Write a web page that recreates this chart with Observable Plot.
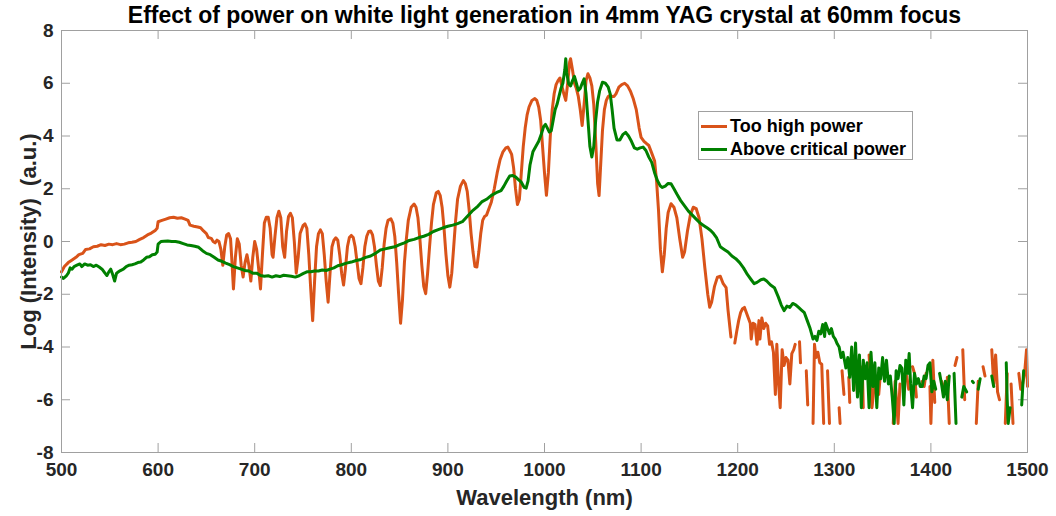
<!DOCTYPE html>
<html>
<head>
<meta charset="utf-8">
<script src="https://cdn.jsdelivr.net/npm/d3@7"></script>
<script src="https://cdn.jsdelivr.net/npm/@observablehq/plot@0.6"></script>
<style>
  html, body { margin: 0; padding: 0; background: #fff; }
  #wrap { position: relative; width: 1056px; height: 516px; font-family: "Liberation Sans", Arial, Helvetica, sans-serif; }
  #legend { position: absolute; left: 698px; top: 111px; width: 215px; height: 49px; border: 1px solid #a0a0a0; background: #fff; box-sizing: border-box; }
  .row { position: absolute; left: 0; height: 22px; display: flex; align-items: center; font-weight: bold; font-size: 18px; color: #000; white-space: nowrap; }
  .sw { width: 26px; height: 3px; margin-left: 2px; margin-right: 3px; }
</style>
</head>
<body>
<div id="wrap"></div>
<script>
const chartTitle = "Effect of power on white light generation in 4mm YAG crystal at 60mm focus";
const xLabel = "Wavelength (nm)";
const yLabel = "Log (Intensity)\u00a0 (a.u.)";
const seriesNames = ["Too high power", "Above critical power"];
const seriesColors = ["#D95319", "#008000"];
const ticksX = [500, 600, 700, 800, 900, 1000, 1100, 1200, 1300, 1400, 1500];
const ticksY = [-8, -6, -4, -2, 0, 2, 4, 6, 8];

// "Too high power" (orange)
const wlHigh = [500,503,507,511,515,518,522,525,529,533,537,541,545,549,553,557,561,565,569,573,577,581,585,589,593,597,599,600,604,608,612,616,620,624,628,631,633,637,641,644,647,650,652,655,657,659,661,663,665,667,669,671,673,675,676.5,678,680,682,684,686,688,690,692,694,696,698,700,702,704,706,708,710,712,714,716,718,719,721,723,725,727,729,731,733,735,737,739,741,743,745,747,750,752,754,756,758,760,762,764,766,768,770,772,774,776,778,780,782,784,786,788,790,792,794,796,798,800,802,804,806,808,810,812,814,816,818,820,822,824,826,828,830,832,834,836,838,841,843,845,847,849,851,853,855,857,859,862,865,867,869,871,873,875,877,879,881,883,885,888,890,892,894,896,898,900,902,904,906,908,910,913,916,918,920,922,924,926,928,930,932,934,936,938,940,943,945,948,951,954,957,960,962,964,966,968,970,972,974,976,978,980,982,984,987,990,992,994,996,998,1000,1002,1004,1006,1008,1010,1012,1014,1016,1018,1020,1022,1024,1026,1027,1029,1031,1033,1035,1037,1039,1041,1043,1045,1047,1049,1051,1053,1055,1056.5,1058,1060,1062,1064,1066,1068,1070,1072,1074,1077,1080,1083,1086,1089,1092,1095,1098,1100,1103,1106,1108,1111,1114,1116,1118,1120,1122,1124,1126,1128,1131,1134,1137,1140,1143,1145,1148,1151,1154,1157,1160,1163,1166,1169,1171,1173,1176,1179,1182,1185,1188,1190,1193,1195,1197,1199,1201,1203,1205,1207,1209,1211,1213,1214,1216,1218,1220,1222,1223,1225,1227,1229,1231,1233,1235,1237,1239,1240.5,1242,1244,1246,1248,1250,1252,1254,1256,1258,1259.5,1262,1264,1265,1268,1271,1272.5,1275,1278,1279.5,1281,1283,1285,1287,1289,1291,1293,1295,1300,1305,1306,1307,1308,1310,1312,1315,1316,1319,1322,1324,1326,1329,1330,1333,1336,1339,1341,1344,1346,1348,1355,1361,1363,1366,1368,1371,1375,1377,1379,1381,1383,1385,1388,1391,1393,1395,1397,1399,1400,1402,1404,1408,1411,1413,1415,1417,1419,1422,1425,1427,1430,1433,1435,1440,1447,1449,1452,1454,1456,1460,1463,1465,1467,1469,1471,1474,1477,1479,1481,1483,1485,1488,1491,1493,1495,1497,1499,1500];
const logHigh = [-1.15,-0.95,-0.8,-0.7,-0.6,-0.5,-0.45,-0.3,-0.28,-0.2,-0.18,-0.12,-0.15,-0.1,-0.12,-0.08,-0.12,-0.1,-0.05,-0.03,0,0.08,0.15,0.25,0.32,0.42,0.5,0.75,0.8,0.85,0.9,0.92,0.88,0.9,0.85,0.8,0.62,0.58,0.55,0.52,0.4,0.3,0.15,0.12,0,-0.05,0.05,0,-0.3,-0.9,-0.2,0.25,0.3,0.1,-0.8,-1.8,-0.6,0.1,-0.1,-0.9,-1.35,-0.8,-0.5,-0.9,-1.5,-0.6,0,-0.3,-1,-1.8,-0.5,0.7,0.92,0.92,0.5,-0.5,-0.6,0.2,0.9,1.15,0.9,-0.2,-0.6,0.4,0.95,1.07,0.9,0,-1.2,-0.6,0.3,0.6,0.67,0.5,-0.5,-1.8,-3,-1.5,-0.2,0.3,0.44,0.3,-0.5,-1.5,-2.3,-1.2,-0.2,0.05,0.14,0.05,-0.5,-1.2,-1.65,-1,-0.2,0.15,0.23,0.15,-0.2,-0.8,-1.4,-1.6,-1,-0.2,0.2,0.38,0.4,0.25,-0.2,-0.9,-1.5,-1.67,-1,-0.1,0.5,0.8,0.86,0.7,0.2,-0.8,-2,-3.1,-2.2,-0.8,0.1,0.8,1.3,1.42,1.3,0.9,0.1,-0.9,-1.7,-1.98,-1.2,-0.2,0.7,1.4,1.85,1.9,1.75,1.3,0.5,-0.5,-1.3,-1.73,-1.2,-0.2,0.8,1.6,2.1,2.31,2.2,1.9,1.2,0.3,-0.4,-0.95,-0.97,-0.4,0.3,0.8,0.95,1,1.3,1.5,2,2.6,3.1,3.4,3.55,3.58,3.45,3.3,2.8,2,1.4,1.6,2.6,3.6,4.3,4.8,5.1,5.35,5.42,5.35,5.1,4.6,3.6,2.6,1.75,2.6,4,5,5.6,5.95,6.1,6.2,5.9,5.6,5.35,6,6.8,6.93,6.5,6,5.8,5.5,5,4.4,5.2,6.1,6.36,6.2,5.9,5.2,3.8,2.2,1.74,2.8,4.2,5,5.35,5.5,5.55,5.5,5.5,5.6,5.85,5.95,6,5.9,5.7,5.4,5,4.3,3.95,3.8,3.7,3.64,3.35,3.05,2.3,1.2,-0.3,-1.15,-0.5,0.5,1.1,1.43,1.3,0.9,0.1,-0.6,-0.4,0.4,1,1.3,1.25,0.9,0.1,-1,-2,-2.49,-2.3,-1.7,-1.35,-1.32,-1.6,-1.75,-2.6,-3.62,null,-3.85,-3.4,-3,-2.7,-2.55,-2.5,-2.7,-2.9,-3.1,-3.7,-3.1,-3.15,-3.9,-3,-3.7,-2.9,-3.3,-3.1,-3.2,-3.9,-3.8,-4.2,-5.8,-3.9,-5.2,-6.3,-4.1,-4.7,-4.4,-4.5,-5.4,-4.25,-4.1,-3.9,null,-3.8,-4.6,null,-4.9,-6.2,null,-6.9,-3.9,-4.4,-4.2,-4.6,-4.65,-6.9,null,-4.9,-6.9,null,-6.3,-6.9,null,-4.9,-5.8,null,-5.15,-6.1,null,-4.7,-5.8,null,-4.75,-6.3,null,-4.3,-6.3,-5.6,-5.15,-5.8,-4.9,null,-6.9,-5.3,-6.9,-5.4,null,-5.1,-5.6,null,-4.75,-5,-5.9,null,-5.3,-5.5,-5,null,-5.5,-6.9,-4.5,-6.1,null,-5.3,-5.5,null,-5.15,-6.9,null,-4.7,-4.4,null,-4.1,-6,null,-6.9,-5.3,null,-4.75,-5.1,null,-4.1,-5.4,-4.3,-5.7,-6,null,-6.9,-5,null,-5.4,-6.9,null,-5,-5.6,-5.4,-5,-4.1,-5.5];

// "Above critical power" (green)
const wlCrit = [500,502,505,507,509,511,513,516,519,521,524,527,530,533,536,539,542,545,547,549,551,553,555,557,559,561,564,567,570,573,576,579,582,585,588,591,594,597,599,600,603,606,610,614,618,622,626,630,634,638,642,646,650,654,658,662,666,670,674,678,682,686,690,694,698,702,706,710,714,718,722,726,730,734,738,742,746,750,754,758,762,766,770,774,778,782,786,790,795,800,805,810,815,820,825,830,835,840,845,850,855,860,865,870,875,880,885,890,895,900,905,910,915,920,925,930,935,940,945,950,955,958,961,964,967,970,973,976,979,981,983,985,988,991,994,997,999,1001,1003,1005,1007,1009,1011,1013,1015,1017,1019,1021,1022,1023,1025,1027,1029,1031,1033,1035,1037,1039,1041,1043,1045,1047,1049,1051,1053,1055,1057,1060,1063,1066,1068,1070,1072,1075,1078,1081,1084,1087,1090,1093,1096,1099,1102,1105,1108,1111,1114,1117,1120,1122,1125,1128,1131,1134,1137,1141,1145,1149,1153,1157,1161,1165,1169,1172,1175,1178,1182,1186,1190,1194,1198,1202,1206,1210,1214,1217,1220,1224,1227,1230,1234,1238,1242,1245,1248,1251,1254,1257,1260,1263,1266,1269,1272,1275,1278,1280,1282,1284,1286,1288,1290,1291,1293,1295,1297,1299,1301,1303,1305,1307,1309,1310,1312,1314,1316,1318,1320,1322,1324,1326,1328,1330,1332,1334,1336,1338,1340,1342,1344,1346,1348,1350,1352,1354,1356,1358,1360,1362,1364,1366,1368,1370,1372,1374,1376,1377.5,1379,1381,1383,1385,1387,1389,1391,1393,1395,1397,1399,1401,1403,1405,1407,1409,1411,1413,1415,1417,1419,1421,1424,1426,1429,1432,1434,1437,1440,1443,1444,1446,1449,1451,1457,1463,1465,1470,1478,1479,1480,1482,1488,1494,1496];
const logCrit = [-1.35,-1.4,-1.3,-1.2,-1,-1.05,-0.95,-0.9,-0.85,-0.95,-0.85,-0.9,-0.88,-0.95,-0.9,-0.97,-1.05,-1.2,-1.29,-1.15,-1.05,-1.25,-1.5,-1.2,-1.15,-1.1,-1.05,-0.95,-0.9,-0.88,-0.85,-0.8,-0.78,-0.7,-0.6,-0.58,-0.5,-0.48,-0.4,-0.1,0,0.01,0.02,0,0,-0.03,-0.08,-0.13,-0.15,-0.18,-0.22,-0.35,-0.45,-0.5,-0.6,-0.7,-0.75,-0.82,-0.88,-0.95,-1,-1.05,-1.1,-1.12,-1.2,-1.2,-1.29,-1.32,-1.3,-1.35,-1.3,-1.33,-1.28,-1.3,-1.32,-1.35,-1.3,-1.22,-1.15,-1.15,-1.12,-1.12,-1.08,-1.1,-1.05,-1,-0.92,-0.88,-0.82,-0.78,-0.72,-0.68,-0.6,-0.55,-0.45,-0.32,-0.28,-0.24,-0.2,-0.12,-0.05,0.04,0.08,0.15,0.2,0.27,0.38,0.45,0.52,0.58,0.62,0.68,0.75,0.95,1.15,1.3,1.5,1.6,1.75,1.85,1.93,2.1,2.3,2.48,2.5,2.45,2.35,2.25,2.05,2.02,2.3,2.9,3.4,3.6,3.8,4.1,4.35,4.44,4.3,4.15,4.2,4.6,5,5.2,5.5,5.8,6,6.5,6.93,6.4,5.98,5.9,6.1,6.26,6,5.73,5.8,6,6.17,5.6,4.6,3.6,3.2,3.6,4.6,5.3,5.7,6.04,6,5.85,5.6,5,4.3,3.85,3.85,4.05,4.14,4,3.8,3.55,3.5,3.55,3.58,3.45,3.2,3,2.6,2.3,2.1,2.05,2.1,2.2,2.19,2,1.8,1.55,1.35,1.15,1,0.85,0.7,0.6,0.5,0.42,0.3,0.15,-0.2,-0.3,-0.4,-0.55,-0.65,-0.8,-1,-1.25,-1.45,-1.6,-1.55,-1.45,-1.42,-1.5,-1.65,-1.75,-2.1,-2.4,-2.62,-2.45,-2.5,-2.35,-2.4,-2.5,-2.6,-2.7,-3,-3.3,-3.7,-3.6,-3.75,-3.4,-3.5,-3.15,-3.6,-3.1,-3.3,-3.5,-3.3,-3.6,-3.7,-3.88,-4,-4.4,-4.2,-4.4,-4.8,-4.4,-5.15,-4,-5.65,-3.85,-5.9,-4.3,-6.3,-4.5,-5.2,-4.6,-6.3,-4.2,-5.5,-4.6,-6.3,-4.8,-5.2,-4.4,-5.3,-4.5,-5.4,-5.1,-5.9,-6.9,-4.9,-5.2,-4.7,-4.8,-6.2,-4.5,-5,-4.25,-5.4,-6.3,-5,-5.4,-5.2,-5.5,-5.5,-5.1,-5.2,-4.7,-4.6,-5.7,-5.3,-5.6,null,-5,-5.4,-5.9,-5.3,-6,-5.1,null,-5,-6.9,null,-5.9,-5.5,-5.7,null,-5.3,-5.35,null,-5.6,-5.2,null,-5.1,-5.5,null,-4.6,-6,-6.9,-6.3,null,-6.2,-4.9];

const high = wlHigh.map((x, i) => ({x, y: logHigh[i]}));
const crit = wlCrit.map((x, i) => ({x, y: logCrit[i]}));

const W = 1056, H = 516, mL = 61, mR = 29, mT = 30, mB = 64;
const fw = W - mL - mR, fh = H - mT - mB;
const axisColor = "#a0a0a0", tickLen = 9;
const plain = d => String(d);

const chart = Plot.plot({
  width: W, height: H,
  marginLeft: mL, marginRight: mR, marginTop: mT, marginBottom: mB,
  x: {domain: [500, 1500]},
  y: {domain: [-8, 8]},
  style: {fontFamily: "'Liberation Sans', Arial, Helvetica, sans-serif", background: "#fff", overflow: "visible"},
  marks: [
    Plot.tickX(ticksX, {x: d => d, insetTop: fh - tickLen, stroke: axisColor}),
    Plot.tickX(ticksX, {x: d => d, insetBottom: fh - tickLen, stroke: axisColor}),
    Plot.tickY(ticksY, {y: d => d, insetRight: fw - tickLen, stroke: axisColor}),
    Plot.tickY(ticksY, {y: d => d, insetLeft: fw - tickLen, stroke: axisColor}),
    Plot.line(high, {x: "x", y: "y", stroke: seriesColors[0], strokeWidth: 3, strokeLinejoin: "round"}),
    Plot.line(crit, {x: "x", y: "y", stroke: seriesColors[1], strokeWidth: 3, strokeLinejoin: "round"}),
    Plot.frame({stroke: axisColor}),
    Plot.axisX({ticks: ticksX, tickFormat: plain, tickSize: 0, tickPadding: 10, label: null, fontSize: 19, fontWeight: "bold", fill: "#262626"}),
    Plot.axisY({ticks: ticksY, tickFormat: plain, tickSize: 0, tickPadding: 8, label: null, fontSize: 19, fontWeight: "bold", fill: "#262626"}),
    Plot.text([yLabel], {frameAnchor: "left", dx: -33, rotate: -90, textAnchor: "middle", lineAnchor: "middle", fontSize: 22, fontWeight: "bold", fill: "#262626"}),
    Plot.text([xLabel], {frameAnchor: "bottom", dy: 45, lineAnchor: "middle", fontSize: 22, fontWeight: "bold", fill: "#262626"}),
    Plot.text([chartTitle], {frameAnchor: "top", dy: -15, lineAnchor: "middle", fontSize: 23, fontWeight: "bold", fill: "#000"})
  ]
});

const wrap = document.getElementById("wrap");
wrap.appendChild(chart);

const legend = document.createElement("div");
legend.id = "legend";
seriesNames.forEach((name, i) => {
  const row = document.createElement("div");
  row.className = "row";
  row.style.top = (3 + i * 23) + "px";
  const sw = document.createElement("span");
  sw.className = "sw";
  sw.style.background = seriesColors[i];
  const t = document.createElement("span");
  t.textContent = name;
  row.appendChild(sw);
  row.appendChild(t);
  legend.appendChild(row);
});
wrap.appendChild(legend);
</script>
</body>
</html>
